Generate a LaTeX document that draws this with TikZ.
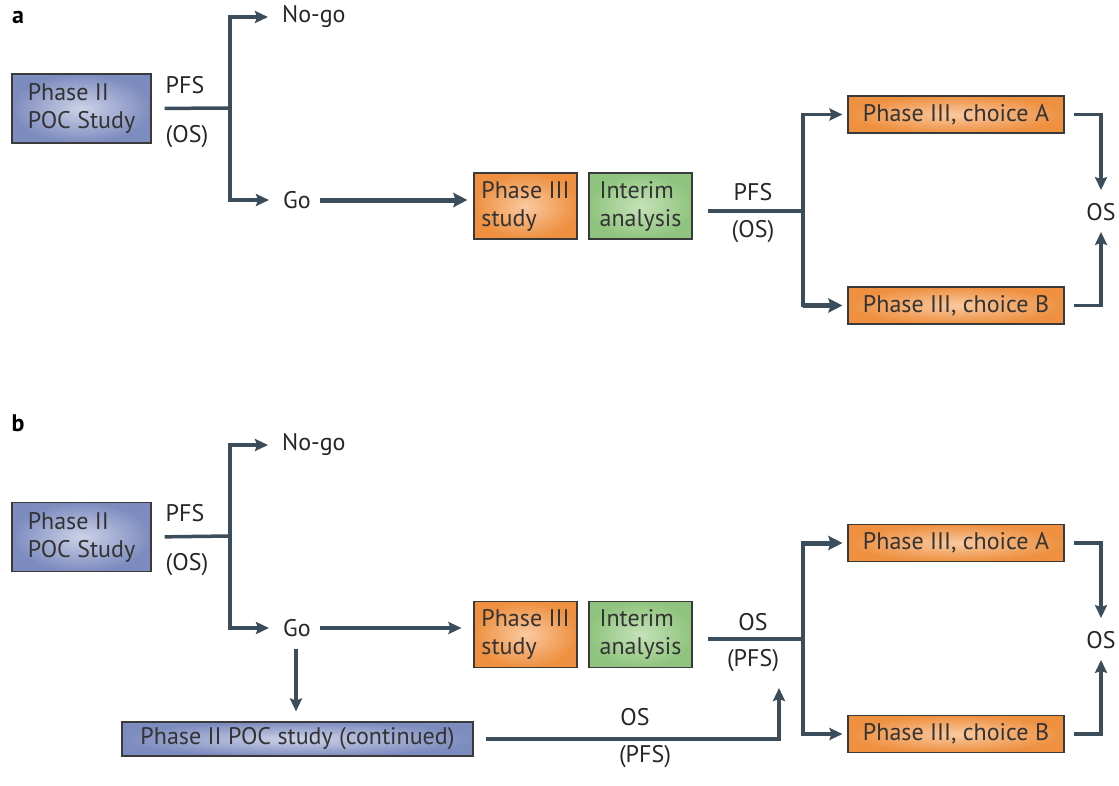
\documentclass[tikz,border=0pt]{standalone}
\usepackage{fontspec}
\setmainfont{PT Sans}
\usetikzlibrary{arrows.meta}
\definecolor{lnc}{HTML}{3B4D5A}
\definecolor{bdc}{HTML}{3A3A3A}
\definecolor{bluo}{HTML}{7D8CBF}
\definecolor{blui}{HTML}{CDD2E8}
\definecolor{orao}{HTML}{EE9040}
\definecolor{orai}{HTML}{FAC9A0}
\definecolor{greo}{HTML}{8FC47E}
\definecolor{grei}{HTML}{C6E2B9}
\tikzset{
  boxbase/.style={draw=bdc, line width=1.1pt, inner sep=0pt, align=left, font=\fontsize{24}{28}\selectfont, text=black!80},
  bluebox/.style={boxbase, inner color=blui, outer color=bluo},
  orangebox/.style={boxbase, inner color=orai, outer color=orao},
  greenbox/.style={boxbase, inner color=grei, outer color=greo},
  txt/.style={inner sep=0pt, font=\fontsize{24}{28}\selectfont, text=black!85},
  panel/.style={inner sep=0pt, font=\fontsize{24}{28}\selectfont\bfseries},
  ln/.style={draw=lnc, line width=3.5pt},
  arr/.style={ln, -{Stealth[length=13pt,width=12pt,inset=2pt]}},
  arrthick/.style={draw=lnc, line width=5pt, -{Stealth[length=14pt,width=14pt,inset=2pt]}},
}
\begin{document}
\begin{tikzpicture}[x=1pt,y=-1pt]
\useasboundingbox (0,0) rectangle (1119,785);
% ---------------- panel a ----------------
\node[panel] (la) at (18,17) {a};
\node[bluebox, minimum width=139pt, minimum height=69pt] (p2a) at (81.5,108.5) {Phase II\\POC Study};
\coordinate (ja) at (230,108);
\node[txt] (pfsa) at (185,85) {PFS};
\node[txt] (osa) at (187,137) {(OS)};
\node[txt, anchor=west] (nogoa) at (282,17) {No-go};
\node[txt, anchor=west] (goa) at (283,200) {Go};
\draw[ln, shorten <=13pt] (p2a.east) -- (ja);
\draw[arr, shorten >=14pt] (ja) |- (nogoa.west);
\draw[arr, shorten >=14pt] (ja) |- (goa.west);
\node[orangebox, minimum width=103pt, minimum height=66pt] (p3a) at (525.5,206) {Phase III\\study};
\node[greenbox, minimum width=103pt, minimum height=66pt] (ia) at (640.5,206) {Interim\\analysis};
\draw[arrthick, shorten <=9pt, shorten >=6pt] (goa.east) -- (goa.east -| p3a.west);
\coordinate (jb) at (803,211);
\draw[ln] ([xshift=15pt]ia.east |- jb) -- (jb);
\node[txt] (pfsb) at (753,192) {PFS};
\node[txt] (osb) at (753,232) {(OS)};
\node[orangebox, minimum width=216pt, minimum height=37pt, align=center] (cha) at (956,114.5) {Phase III, choice A};
\node[orangebox, minimum width=216pt, minimum height=37pt, align=center] (chb) at (956,305.5) {Phase III, choice B};
\draw[ln, line cap=rect] (cha.west -| jb) -- (chb.west -| jb);
\draw[arr, shorten >=5pt] (cha.west -| jb) -- (cha.west);
\draw[arrthick, shorten >=5pt] (chb.west -| jb) -- (chb.west);
\node[txt] (osfa) at (1101,212) {OS};
\draw[arr, shorten <=9pt, shorten >=13pt] (cha.east) -| (osfa.north);
\draw[arr, shorten <=9pt, shorten >=11pt] (chb.east) -| (osfa.south);
% ---------------- panel b ----------------
\node[panel] (lb) at (18,423) {b};
\node[bluebox, minimum width=139pt, minimum height=69pt] (p2b) at (81.5,537) {Phase II\\POC Study};
\coordinate (jc) at (230,536);
\node[txt] (pfsc) at (185,513) {PFS};
\node[txt] (osc) at (187,565) {(OS)};
\node[txt, anchor=west] (nogob) at (282,445) {No-go};
\node[txt, anchor=west] (gob) at (283,628) {Go};
\draw[ln, shorten <=13pt] (p2b.east) -- (jc);
\draw[arr, shorten >=14pt] (jc) |- (nogob.west);
\draw[arr, shorten >=14pt] (jc) |- (gob.west);
\node[orangebox, minimum width=103pt, minimum height=66pt] (p3b) at (525.5,634.5) {Phase III\\study};
\node[greenbox, minimum width=103pt, minimum height=66pt] (ib) at (640.5,634.5) {Interim\\analysis};
\draw[arr, shorten <=9pt, shorten >=12pt] (gob.east) -- (gob.east -| p3b.west);
\coordinate (jd) at (803,639);
\draw[ln] ([xshift=15pt]ib.east |- jd) -- (jd);
\node[txt] (osd) at (753,622) {OS};
\node[txt] (pfsd) at (753,661) {(PFS)};
\node[orangebox, minimum width=216pt, minimum height=37pt, align=center] (chc) at (956,543) {Phase III, choice A};
\node[orangebox, minimum width=216pt, minimum height=37pt, align=center] (chd) at (956,734) {Phase III, choice B};
\draw[ln, line cap=rect] (chc.west -| jd) -- (chd.west -| jd);
\draw[arrthick, shorten >=5pt] (chc.west -| jd) -- (chc.west);
\draw[arr, shorten >=5pt] (chd.west -| jd) -- (chd.west);
\node[txt] (osfb) at (1101,640) {OS};
\draw[arr, shorten <=9pt, shorten >=13pt] (chc.east) -| (osfb.north);
\draw[arr, shorten <=9pt, shorten >=11pt] (chd.east) -| (osfb.south);
\node[bluebox, minimum width=351pt, minimum height=34pt, align=center] (cont) at (297.5,739) {Phase II POC study (continued)};
\draw[arr, shorten <=12pt, shorten >=10pt] (gob.south -| 296,0) -- (cont.north -| 296,0);
\coordinate (up) at (779,688);
\draw[arr, shorten <=12pt] (cont.east) -| (up);
\node[txt] (ose) at (635,717) {OS};
\node[txt] (pfse) at (645,757) {(PFS)};
\end{tikzpicture}
\end{document}
